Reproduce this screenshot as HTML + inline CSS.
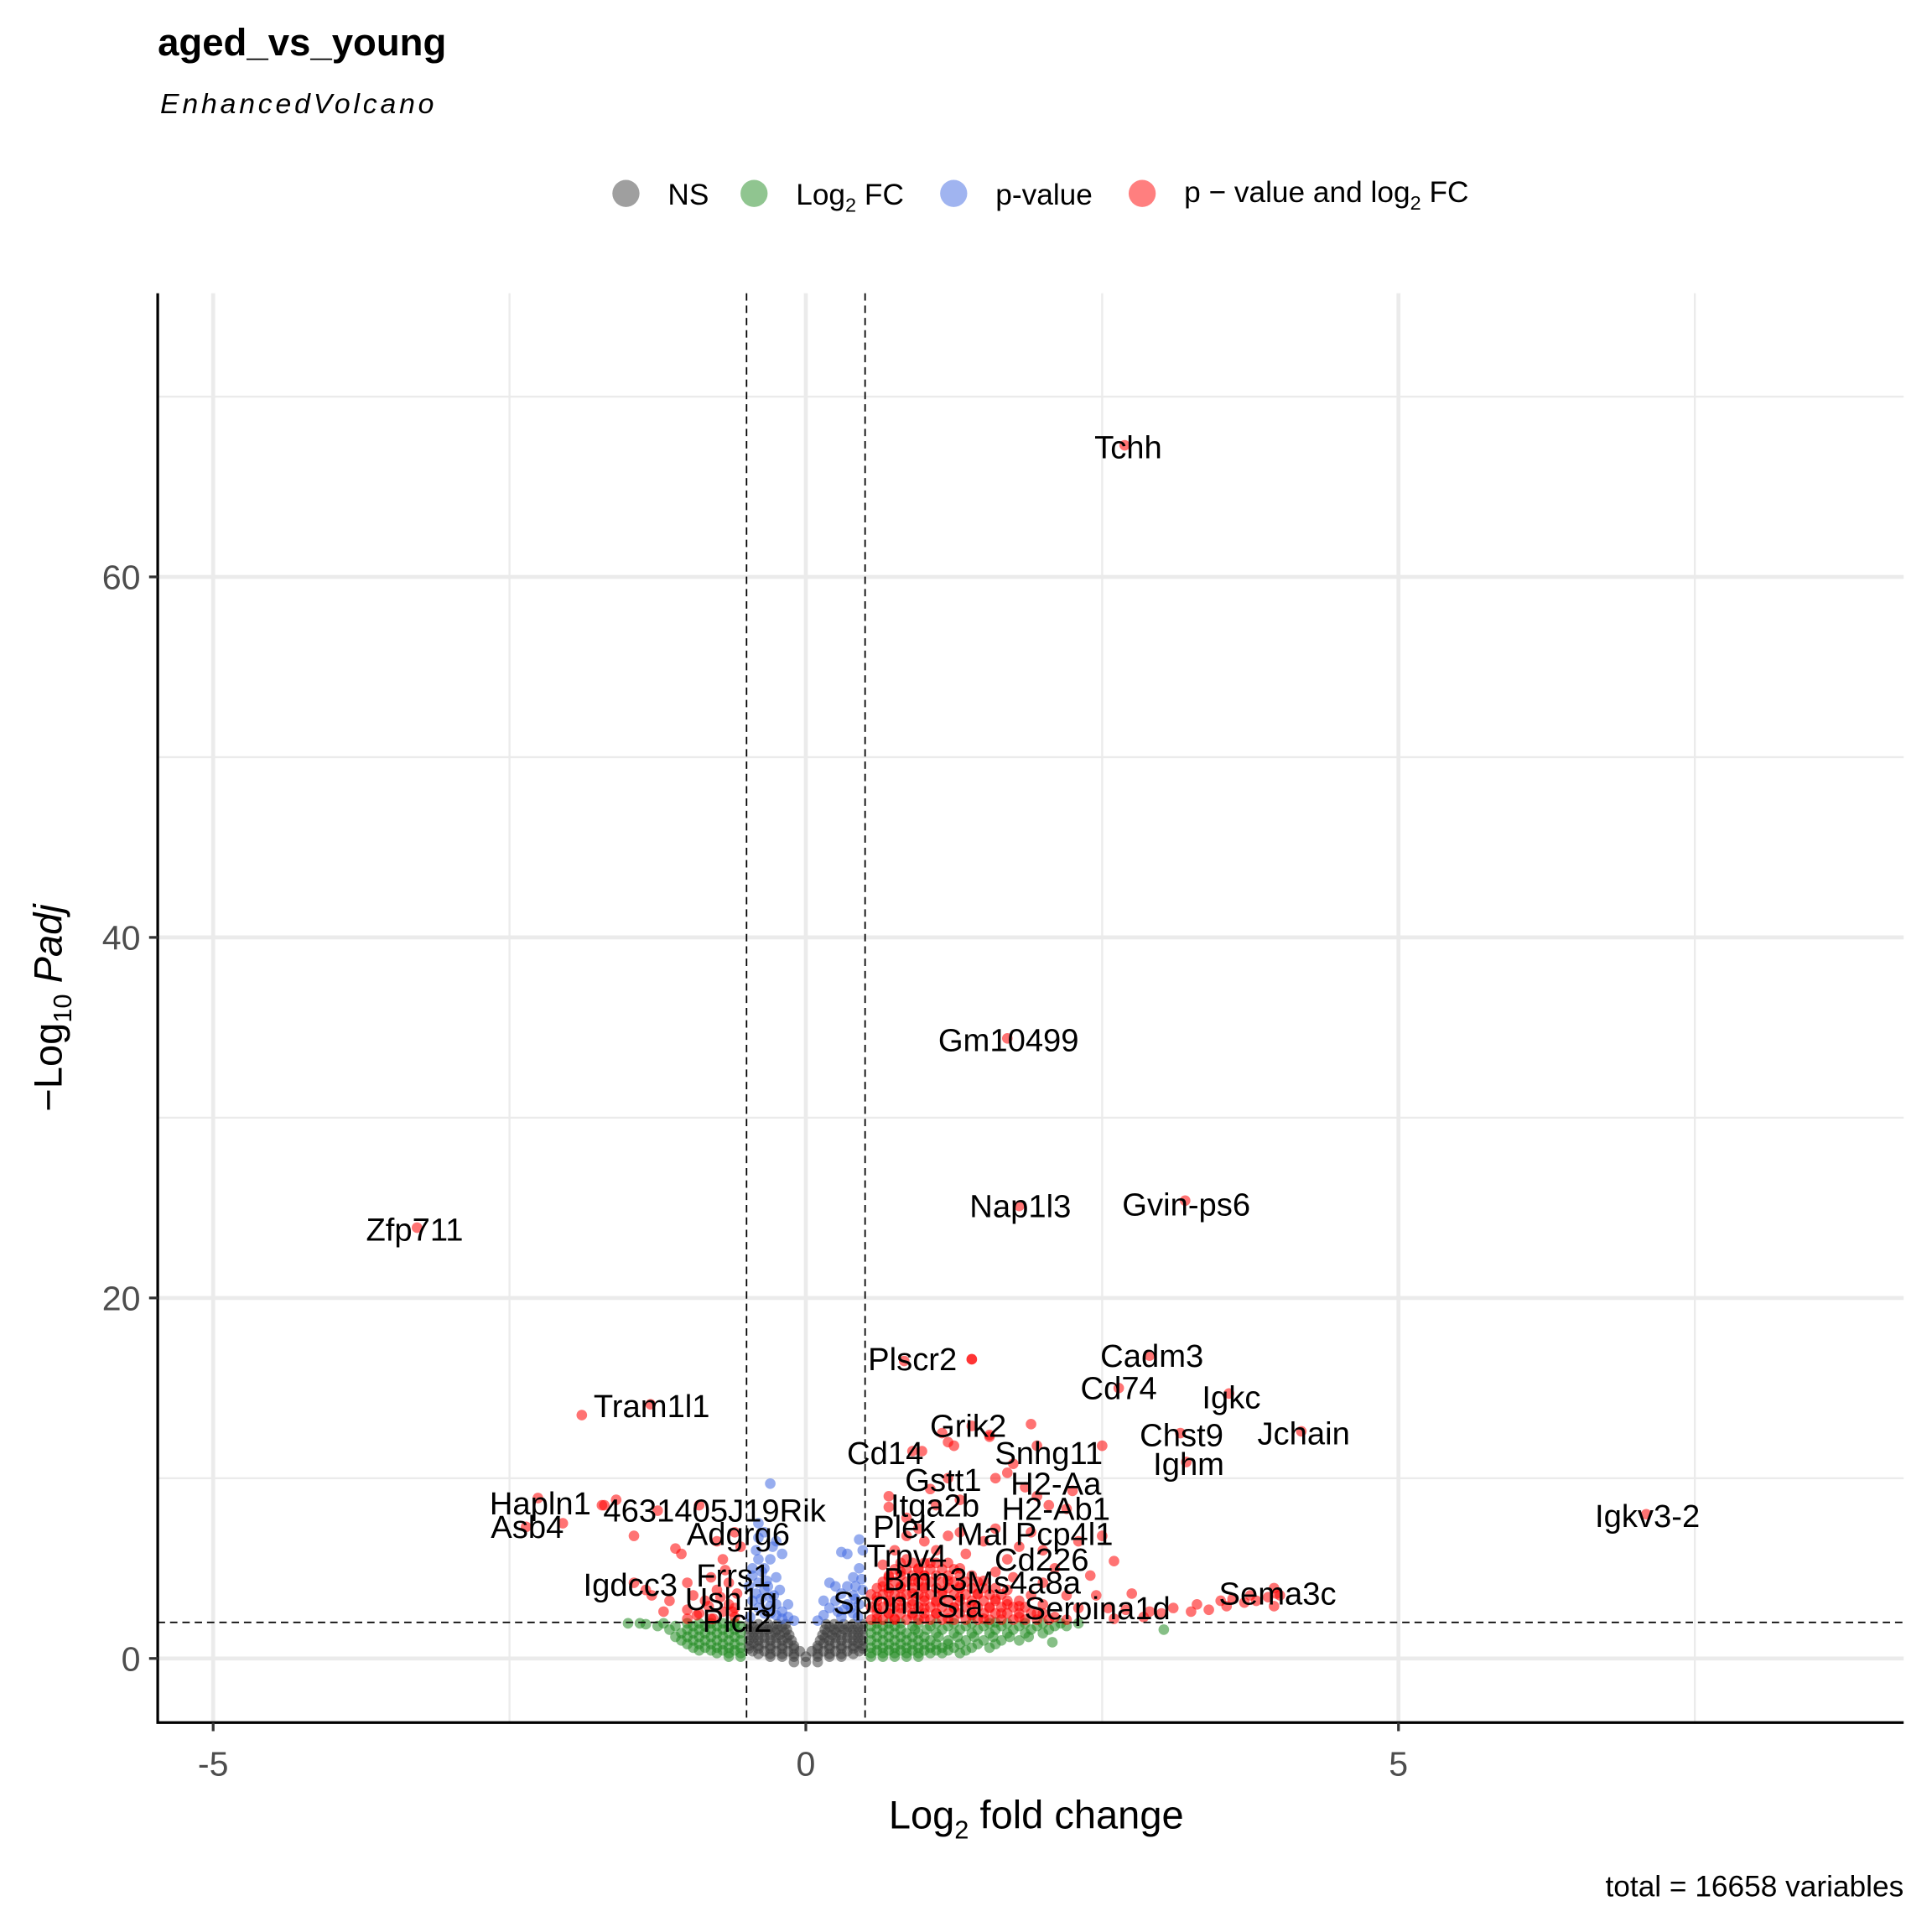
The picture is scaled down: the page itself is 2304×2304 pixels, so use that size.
<!DOCTYPE html>
<html><head><meta charset="utf-8"><style>
html,body{margin:0;padding:0;background:#fff}
svg{display:block;font-family:"Liberation Sans",sans-serif}
</style></head><body>
<svg id="chart" width="2304" height="2304" viewBox="0 0 1568 1568" xmlns="http://www.w3.org/2000/svg">
<rect width="1568" height="1568" fill="#fff"/>
<text x="128" y="45" font-size="31" font-weight="bold">aged_vs_young</text>
<text x="130" y="92" font-size="23" font-style="italic" letter-spacing="2.6">EnhancedVolcano</text>
<g font-size="24">
 <g><circle cx="508" cy="157" r="11" fill="#404040" fill-opacity="0.5"/><text x="542" y="166">NS</text></g>
 <g><circle cx="612" cy="157" r="11" fill="#228B22" fill-opacity="0.5"/><text x="646" y="166">Log<tspan font-size="16" dy="6">2</tspan><tspan dy="-6"> FC</tspan></text></g>
 <g><circle cx="774" cy="157" r="11" fill="#4169E1" fill-opacity="0.5"/><text x="808" y="166">p-value</text></g>
 <g><circle cx="927" cy="157" r="11" fill="#FF0000" fill-opacity="0.5"/><text x="961" y="164">p − value and log<tspan font-size="16" dy="6">2</tspan><tspan dy="-6"> FC</tspan></text></g>
</g>
<g id="grid"></g>
<g id="pts"></g>
<g id="thr"></g>
<g id="lbl" font-size="26" text-anchor="middle"></g>
<g id="axes"></g>
<text x="841" y="1484" font-size="32" text-anchor="middle">Log<tspan font-size="21" dy="8">2</tspan><tspan dy="-8"> fold change</tspan></text>
<text transform="translate(50,818) rotate(-90)" font-size="32" text-anchor="middle">−Log<tspan font-size="21" dy="8">10</tspan><tspan dy="-8" font-style="italic"> Padj</tspan></text>
<text x="1545" y="1539" font-size="24" text-anchor="end">total = 16658 variables</text>
</svg>
<script>
const xMajor=[-5,0,5];
const xMinor=[-2.5,2.5,7.5];
const yMajor=[0,20,40,60];
const yMinor=[10,30,50,70];
const fcCut=[-0.5,0.5];
const pCut=[2];
const greyRows=[[-0.2,[-0.1,0,0.1]],[0.1,[-0.3,-0.2,-0.1,0,0.1,0.2,0.3]],[0.25,[-0.4,-0.3,-0.2,-0.1,0.1,0.2,0.3,0.4]],[0.4,[-0.45,-0.35,-0.25,-0.15,-0.05,0.05,0.15,0.25,0.35,0.45]],[0.55,[-0.48,-0.4,-0.3,-0.2,-0.1,0.1,0.2,0.3,0.4,0.48]],[0.7,[-0.48,-0.4,-0.3,-0.2,-0.1,0.1,0.2,0.3,0.4,0.48]],[0.85,[-0.44,-0.35,-0.25,-0.15,0.15,0.25,0.35,0.44]],[1.0,[-0.48,-0.4,-0.3,-0.2,-0.12,0.12,0.2,0.3,0.4,0.48]],[1.15,[-0.44,-0.35,-0.25,-0.16,0.16,0.25,0.35,0.44]],[1.3,[-0.48,-0.4,-0.3,-0.22,-0.14,0.14,0.22,0.3,0.4,0.48]],[1.45,[-0.44,-0.35,-0.26,-0.18,0.18,0.26,0.35,0.44]],[1.6,[-0.48,-0.4,-0.32,-0.24,-0.16,0.16,0.24,0.32,0.4,0.48]],[1.75,[-0.44,-0.36,-0.28,-0.2,0.2,0.28,0.36,0.44]],[1.9,[-0.48,-0.4,-0.32,-0.24,-0.17,0.17,0.24,0.32,0.4,0.48]]];
const greenRows=[[0.1,[0.55,0.65,0.75,0.85,0.95,-0.55,-0.65]],[0.3,[0.55,0.65,0.75,0.85,0.95,1.05,1.15,1.3,-0.55,-0.65,-0.75]],[0.45,[0.6,0.7,0.8,0.9,1.0,1.1,1.2,1.35,-0.6,-0.7,-0.8,-0.9]],[0.6,[0.55,0.65,0.75,0.85,0.95,1.05,1.15,1.25,1.4,1.55,-0.55,-0.65,-0.75,-0.85,-0.95]],[0.8,[0.6,0.7,0.8,0.9,1.0,1.1,1.2,1.3,1.45,1.6,-0.6,-0.7,-0.8,-0.9,-1.0]],[1.0,[0.55,0.65,0.75,0.85,0.95,1.05,1.2,1.35,1.5,1.65,1.8,-0.55,-0.65,-0.75,-0.85,-0.95,-1.05]],[1.2,[0.6,0.7,0.8,0.9,1.0,1.12,1.28,1.42,1.58,1.72,1.88,-0.6,-0.7,-0.8,-0.9,-1.0,-1.1]],[1.4,[0.55,0.65,0.75,0.85,0.95,1.1,1.25,1.4,1.55,1.7,1.85,2.0,-0.55,-0.65,-0.75,-0.85,-0.95,-1.05]],[1.6,[0.6,0.7,0.8,0.92,1.02,1.15,1.3,1.45,1.6,1.75,1.9,2.05,-0.6,-0.7,-0.8,-0.9,-1.0,-1.15]],[1.8,[0.55,0.65,0.75,0.9,1.05,1.2,1.35,1.5,1.65,1.8,1.95,2.1,2.2,-0.55,-0.65,-0.75,-0.85,-0.95,-1.1,-1.25]],[1.95,[0.6,0.7,0.8,0.95,1.1,1.25,1.4,1.55,1.7,1.85,2.0,2.15,2.3,-0.6,-0.7,-0.8,-0.9,-1.0,-1.2,-1.4,-1.5]]];
const greenExtra=[[2.08,0.9],[3.02,1.6],[1.6,2.0],[-1.35,1.9],[-0.6,1.95]];
const blueX=[-0.1,-0.15,-0.2,-0.25,-0.3,-0.35,-0.4,-0.45,-0.2,-0.3,-0.4,-0.45,-0.48,-0.35,-0.3,-0.25,-0.4,-0.42,-0.28,-0.2,-0.35,-0.4,-0.25,-0.3,-0.45,-0.38,-0.15,-0.22,-0.33,-0.47,-0.27,-0.32,-0.37,-0.42,-0.3,-0.35,-0.25,-0.4,0.1,0.15,0.2,0.25,0.3,0.35,0.4,0.45,0.3,0.4,0.45,0.48,0.42,0.35,0.2,0.25,0.3,0.35,0.45,0.48,0.4,0.15,0.32,0.38,0.44,0.27,0.47,0.42];
const blueY=[2.1,2.3,2.6,3.0,3.4,3.8,4.2,4.6,2.2,2.5,2.8,3.2,4.0,5.0,5.5,4.5,5.5,6.0,6.2,5.8,7.0,7.5,6.5,9.7,5.0,3.3,3.0,3.8,4.3,2.3,3.5,4.0,4.8,3.6,2.9,2.5,2.4,6.7,2.1,2.4,2.8,3.2,3.6,4.0,4.5,5.0,2.3,2.5,3.0,3.8,4.0,3.0,4.2,4.0,5.9,5.8,6.6,6.0,3.5,3.2,2.7,2.8,2.3,2.6,4.4,3.3];
const redX=[0.6,0.6,0.6,0.65,0.7,0.7,0.7,0.7,0.75,0.8,0.8,0.8,0.8,0.85,0.9,0.9,0.9,0.9,0.95,1.0,1.0,1.0,1.0,1.0,1.05,1.1,1.1,1.1,1.15,1.2,1.2,1.25,1.3,1.3,1.3,1.35,1.4,1.4,1.45,1.5,1.5,1.55,1.6,1.6,1.65,1.7,1.7,1.8,1.8,1.9,1.95,2.0,2.1,0.65,0.75,0.85,0.95,1.0,1.2,1.3,1.5,1.6,1.7,1.8,1.9,2.0,2.1,1.75,2.0,2.2,2.3,0.7,0.7,0.85,1.05,1.1,1.3,1.2,1.25,1.15,1.4,1.55,0.9,1.85,1.7,1.75,1.6,1.95,1.9,1.95,2.05,2.2,2.25,2.5,2.6,2.45,2.55,2.6,2.7,2.75,2.85,2.9,3.0,3.1,3.25,3.3,3.4,3.5,3.55,3.6,3.7,3.75,3.8,3.9,3.95,3.95,4.0,2.4,2.3,2.5,-0.6,-0.65,-0.7,-0.75,-0.8,-0.8,-0.85,-0.9,-0.95,-1.0,-1.0,-1.05,-1.1,-1.0,-0.7,-0.75,-0.6,-0.65,-1.3,-1.35,-1.45,-1.15,-1.2,-0.9,-1.45,-1.25,-1.6,-1.7,-0.55,-0.6,-0.62,-0.72,-0.82,-0.92,-0.58,-0.68,-0.78,1.4,0.83,2.69,1.70,1.80,3.20,-3.28,1.40,2.90,2.64,3.57,4.18,3.16,3.21,7.09,-1.31,-1.89,-2.26,-2.05,-2.36,-1.72,3.97,1.55,1.2,0.98];
const redY=[2.2,2.8,3.4,4.0,2.5,3.1,3.7,4.5,2.2,2.8,3.4,4.0,4.8,5.5,2.4,3.0,3.6,4.3,5.0,2.2,2.8,3.4,4.0,4.6,5.3,6.0,2.5,3.1,3.7,4.3,2.2,2.8,3.4,4.0,5.0,5.8,2.4,3.0,3.6,4.3,2.2,2.8,3.3,4.8,2.5,3.0,3.8,2.3,2.9,3.5,2.5,3.0,2.3,5.2,6.0,6.8,7.2,6.5,6.8,7.0,6.5,7.2,5.5,6.2,7.0,6.0,5.0,4.5,4.2,3.5,2.8,8.4,9.0,7.8,9.4,8.5,8.8,10.0,11.8,12.5,12.9,12.3,11.5,9.5,10.3,10.8,10.0,11.8,13.0,9.0,8.5,8.3,9.3,11.8,5.4,3.5,2.8,2.2,2.7,3.6,2.3,2.6,2.5,2.8,2.6,3.0,2.7,3.2,2.9,3.3,3.1,3.5,3.2,3.4,3.9,2.9,3.5,4.6,6.5,6.8,2.3,3.0,2.6,3.8,2.2,4.5,3.2,2.5,3.5,2.2,4.2,5.8,6.1,2.7,5.5,6.5,7.0,4.2,3.5,3.8,4.2,3.2,2.6,8.5,6.8,8.2,8.8,8.5,6.2,2.8,2.6,3.4,2.9,2.4,3.6,4.9,2.2,16.6,16.5,67.3,34.4,25.1,25.4,23.9,16.6,16.8,15.0,14.7,12.6,12.5,10.9,8.0,14.1,13.5,8.9,7.5,7.3,8.5,3.6,12.4,12.0,11.5];
const redRows=[[2.15,[0.55,0.65,0.75,0.85,0.95,1.05,1.15,1.25,1.35,1.45,1.55,1.65,1.75,1.85,1.95,2.05,2.2]],[2.5,[0.6,0.7,0.8,0.9,1.0,1.1,1.2,1.3,1.4,1.5,1.6,1.7,1.8,1.9,2.0]],[2.85,[0.55,0.65,0.75,0.85,0.95,1.05,1.15,1.25,1.35,1.45,1.55,1.65,1.75,1.85]],[3.2,[0.6,0.7,0.8,0.9,1.0,1.1,1.2,1.3,1.4,1.5,1.6,1.7,1.8]],[3.55,[0.55,0.65,0.75,0.85,0.95,1.05,1.15,1.25,1.35,1.45,1.55,1.65]],[3.9,[0.6,0.7,0.8,0.9,1.0,1.1,1.2,1.3,1.4,1.5,1.6]],[4.25,[0.65,0.75,0.85,0.95,1.05,1.15,1.25,1.35,1.45]],[4.6,[0.7,0.8,0.9,1.0,1.1,1.2,1.3,1.4]],[4.95,[0.75,0.85,0.95,1.05,1.15,1.25]],[5.3,[0.8,0.9,1.0,1.1,1.2]]];
const genes=["Tchh","Gm10499","Nap1l3","Gvin-ps6","Zfp711","Plscr2","Cadm3","Cd74","Igkc","Jchain","Chst9","Ighm","Tram1l1","Cd14","Grik2","Snhg11","Gstt1","H2-Aa","Hapln1","4631405J19Rik","Itga2b","H2-Ab1","Igkv3-2","Asb4","Plek","Adgrg6","Mal","Pcp4l1","Trpv4","Cd226","Frrs1","Bmp3","Ms4a8a","Igdcc3","Sema3c","Ush1g","Spon1","Sla","Serpina1d","Plcl2"];
const geneLX=[2.72,1.71,1.81,3.21,-3.30,0.90,2.92,2.64,3.59,4.20,3.17,3.23,-1.30,0.67,1.37,2.05,1.16,2.11,-2.24,-0.77,1.09,2.11,7.10,-2.35,0.83,-0.57,1.49,2.18,0.85,1.99,-0.61,1.01,1.84,-1.48,3.98,-0.63,0.62,1.30,2.46,-0.58];
const geneLY=[67.2,34.3,25.1,25.2,23.8,16.6,16.8,15.0,14.5,12.5,12.4,10.8,14.0,11.4,12.9,11.4,9.9,9.7,8.6,8.2,8.5,8.3,7.9,7.3,7.3,6.9,6.9,6.9,5.7,5.5,4.6,4.4,4.2,4.1,3.6,3.3,3.1,2.9,2.8,2.1];
const L=128,R=1545,T=238,B=1398;
const sx=v=>654+v*96.2, sy=v=>1346-v*14.63;
const NS='http://www.w3.org/2000/svg';
function mk(tag,attrs,parent){const e=document.createElementNS(NS,tag);for(const k in attrs)e.setAttribute(k,attrs[k]);parent.appendChild(e);return e;}
const grid=document.getElementById('grid'),pts=document.getElementById('pts'),thr=document.getElementById('thr'),lbl=document.getElementById('lbl'),axes=document.getElementById('axes');
xMinor.forEach(v=>{const e=mk('line',{x1:sx(v),x2:sx(v),y1:T,y2:B,stroke:'#ebebeb','stroke-width':1.6},grid);

});
yMinor.forEach(v=>{const e=mk('line',{x1:L,x2:R,y1:sy(v),y2:sy(v),stroke:'#ebebeb','stroke-width':1.6},grid);

});
xMajor.forEach(v=>{const e=mk('line',{x1:sx(v),x2:sx(v),y1:T,y2:B,stroke:'#ebebeb','stroke-width':3.2},grid);

});
yMajor.forEach(v=>{const e=mk('line',{x1:L,x2:R,y1:sy(v),y2:sy(v),stroke:'#ebebeb','stroke-width':3.2},grid);

});
function dot(x,y,col,name){const c=mk('circle',{cx:sx(x),cy:sy(y),r:4.3,fill:col,'fill-opacity':0.55},pts);

}
greyRows.forEach(r=>r[1].forEach(x=>dot(x,r[0],'#404040','point-ns')));
greenRows.forEach(r=>r[1].forEach(x=>dot(x,r[0],'#228B22','point-log2fc')));
greenExtra.forEach(p=>dot(p[0],p[1],'#228B22','point-log2fc'));
blueX.forEach((x,i)=>dot(x,blueY[i],'#4169E1','point-pvalue'));
redRows.forEach(r=>r[1].forEach(x=>dot(x,r[0],'#FF0000','point-significant')));
redX.forEach((x,i)=>dot(x,redY[i],'#FF0000','point-significant'));
fcCut.forEach(v=>{const e=mk('line',{x1:sx(v),x2:sx(v),y1:T,y2:B,stroke:'#000','stroke-width':1.2,'stroke-dasharray':'6,4'},thr);

});
pCut.forEach(v=>{const e=mk('line',{x1:L,x2:R,y1:sy(v),y2:sy(v),stroke:'#000','stroke-width':1.2,'stroke-dasharray':'6,4'},thr);

});
genes.forEach((g,i)=>{const t=mk('text',{x:sx(geneLX[i]),y:sy(geneLY[i])+9},lbl);t.textContent=g;

});
const ax=mk('path',{d:`M${L},${T}V${B}H${R}`,fill:'none',stroke:'#000','stroke-width':2.2},axes);


xMajor.forEach(v=>{mk('line',{x1:sx(v),x2:sx(v),y1:B,y2:B+7,stroke:'#333','stroke-width':2.2},axes);
const t=mk('text',{x:sx(v),y:B+43,'font-size':28,fill:'#4d4d4d','text-anchor':'middle'},axes);t.textContent=v;

});
yMajor.forEach(v=>{mk('line',{x1:L-7,x2:L,y1:sy(v),y2:sy(v),stroke:'#333','stroke-width':2.2},axes);
const t=mk('text',{x:L-14,y:sy(v)+10,'font-size':28,fill:'#4d4d4d','text-anchor':'end'},axes);t.textContent=v;

});
</script>
</body></html>
